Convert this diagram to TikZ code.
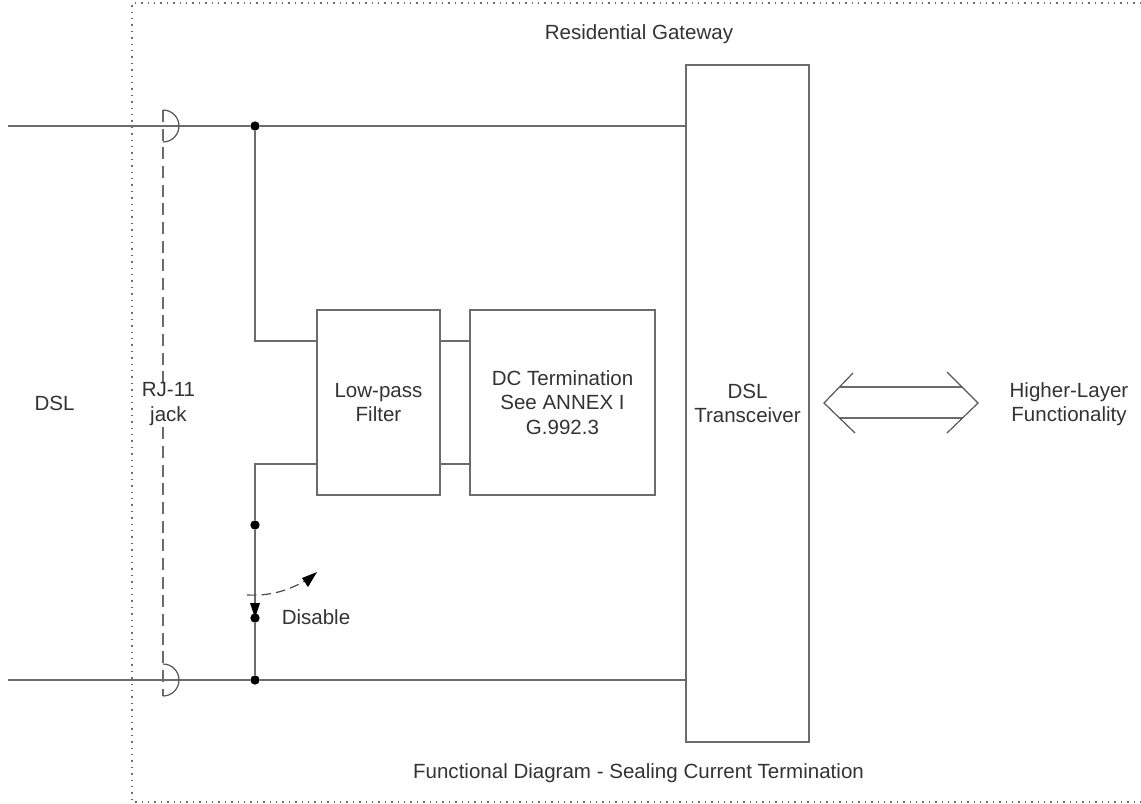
\documentclass[tikz,border=0pt]{standalone}
\usepackage{fontspec}
\setmainfont{Liberation Sans}
\usetikzlibrary{arrows.meta}
\definecolor{wire}{gray}{0.42}
\definecolor{txt}{gray}{0.2}
\tikzset{
  x=0.75pt,y=-0.75pt,
  wireline/.style={draw=wire,line width=1.5pt},
  thinline/.style={draw=wire!80!black,line width=0.9pt},
  boxnode/.style={draw=wire,line width=1.2pt,fill=none,inner sep=0pt,align=center,text=txt,font=\fontsize{15.4}{18.4}\selectfont},
  lbl/.style={text=txt,align=center,inner sep=0pt,font=\fontsize{15.4}{18.4}\selectfont},
  dot/.style={circle,fill=black,inner sep=0pt,minimum size=7pt},
}
\begin{document}
\begin{tikzpicture}
\useasboundingbox (0,0) rectangle (1141,803);
% dotted frame
\coordinate (fa) at (1141,3);
\coordinate (fb) at (132,3);
\coordinate (fc) at (132,802);
\coordinate (fd) at (1141,802);
\draw[draw=wire,line width=0.9pt,dash pattern=on 1pt off 3.8pt] (fa) -- (fb) -- (fc) -- (fd);
% boxes
\node[boxnode,minimum width=92.25pt,minimum height=138.75pt] (lp) at (378.5,402.5) {Low-pass\\Filter};
\node[boxnode,minimum width=138.75pt,minimum height=138.75pt] (dc) at (562.5,402.5) {DC Termination\\See ANNEX I\\G.992.3};
\node[boxnode,minimum width=92.25pt,minimum height=507.75pt] (tr) at (747.5,403.5) {DSL\\Transceiver};
% coordinates
\coordinate (lt) at (8,126);
\coordinate (lb) at (8,680);
\node[dot] (jt) at (255,126) {};
\node[dot] (jb) at (255,680) {};
\node[dot] (sa) at (255,525) {};
\node[dot] (sb) at (255,618) {};
\coordinate (trt) at (tr.west |- jt);
\coordinate (trb) at (tr.west |- jb);
% wires
\draw[wireline] (lt) -- (jt) -- (trt);
\draw[wireline] (lb) -- (jb) -- (trb);
\draw[wireline] (jt) -- (255,341) -- (lp.west |- 0,341);
\draw[wireline] (lp.west |- 0,464) -- (255,464) -- (sa) -- (sb) -- (jb);
\draw[wireline] (lp.east |- 0,341) -- (dc.west |- 0,341);
\draw[wireline] (lp.east |- 0,464) -- (dc.west |- 0,464);
% switch arrowheads
\fill[black] (250,603) -- (260,603) -- (255,618) -- cycle;
\draw[thinline,dash pattern=on 7pt off 4pt,black!70] (247,595) .. controls (268,596) and (285,592) .. (305,581);
\fill[black] (317,572) -- (302,578) -- (308,587) -- cycle;
% jack
\coordinate (jka) at (163,110);
\coordinate (jkb) at (163,696);
\draw[draw=wire,line width=1.3pt,dash pattern=on 9pt off 5pt] (jka) -- (jkb);
\draw[thinline] (jka) arc[start angle=-90,end angle=90,radius=16];
\draw[thinline] (163,664) arc[start angle=-90,end angle=90,radius=16];
% double arrow
\coordinate (al) at (824,403);
\coordinate (ar) at (978,403);
\draw[wireline] (840,387) -- (962,387);
\draw[wireline] (840,418) -- (962,418);
\draw[thinline] (853,373) -- (al) -- (855,433);
\draw[thinline] (947,372) -- (ar) -- (947,433);
% labels
\node[lbl] (t1) at (639,34) {Residential Gateway};
\node[lbl] (t2) at (638.5,773) {Functional Diagram - Sealing Current Termination};
\node[lbl] (t3) at (54.5,403) {DSL};
\node[lbl,fill=white] (t4) at (168.5,404) {RJ-11\\jack};
\node[lbl] (t5) at (316,617) {Disable};
\node[lbl] (t6) at (1069,404) {Higher-Layer\\Functionality};
\end{tikzpicture}
\end{document}
